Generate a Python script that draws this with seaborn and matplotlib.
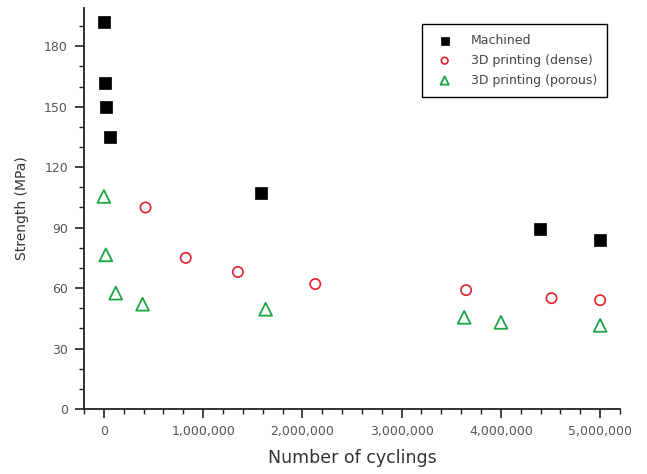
import numpy as np
import pandas as pd
import matplotlib
matplotlib.use("Agg")
import matplotlib.pyplot as plt
from matplotlib.ticker import MultipleLocator, FuncFormatter
import seaborn as sns

# --- data ---
machined_x = [0, 10000, 20000, 60000, 1580000, 4390000, 5000000]
machined_y = [192, 162, 150, 135, 107, 89.5, 84]

dense_x = [420000, 825000, 1350000, 2130000, 3650000, 4510000, 5000000]
dense_y = [100, 75, 68, 62, 59, 55, 54]

porous_x = [0, 20000, 120000, 390000, 1630000, 3630000, 4000000, 5000000]
porous_y = [105.5, 76.5, 57.5, 52, 49.5, 45.5, 43, 41.5]

series_names = ["Machined", "3D printing (dense)", "3D printing (porous)"]

sns.set_style("ticks")
plt.rcParams['font.family'] = ['DejaVu Sans']

fig = plt.figure(figsize=(6.47, 4.74), dpi=100)
ax = fig.add_axes([84 / 647, 65 / 474, 536 / 647, 401 / 474])

sns.scatterplot(x=machined_x, y=machined_y, marker='s', s=80, color='black',
                edgecolor='black', linewidth=0.5, ax=ax, label=series_names[0], zorder=3)
sns.scatterplot(x=dense_x, y=dense_y, marker='o', s=55, facecolor='none',
                edgecolor='#e4202c', linewidth=1.2, ax=ax, label=series_names[1], zorder=3)
sns.scatterplot(x=porous_x, y=porous_y, marker='^', s=85, facecolor='none',
                edgecolor='#1fa445', linewidth=1.3, ax=ax, label=series_names[2], zorder=3)

ax.set_xlim(-200000, 5200000)
ax.set_ylim(0, 199)
ax.xaxis.set_major_locator(MultipleLocator(1000000))
ax.xaxis.set_minor_locator(MultipleLocator(200000))
ax.yaxis.set_major_locator(MultipleLocator(30))
ax.yaxis.set_minor_locator(MultipleLocator(10))
ax.xaxis.set_major_formatter(FuncFormatter(lambda v, p: f"{int(round(v)):,}"))

ax.tick_params(which='major', direction='out', length=6.5, width=1.2,
               labelsize=9, labelcolor='#555555', color='#222222')
ax.tick_params(axis='y', which='major', pad=5)
ax.tick_params(axis='x', which='major', pad=5)
ax.tick_params(which='minor', direction='out', length=3.5, width=1.0, color='#222222')

for side in ['top', 'right']:
    ax.spines[side].set_visible(False)
for side in ['left', 'bottom']:
    ax.spines[side].set_linewidth(1.3)
    ax.spines[side].set_color('#222222')

ax.set_xlabel('Number of cyclings', fontsize=12.5, color='#333333', labelpad=8)
ax.set_ylabel('Strength (MPa)', fontsize=10, color='#333333', labelpad=11)

leg = ax.legend(loc='upper right', bbox_to_anchor=(0.976, 0.96), borderaxespad=0,
                fontsize=9, frameon=True, fancybox=False, edgecolor='black', framealpha=1,
                borderpad=0.8, labelspacing=0.55, handletextpad=1.1, markerscale=0.65)
leg.get_frame().set_linewidth(1.0)
for t in leg.get_texts():
    t.set_color('#444444')

fig.savefig('out.png', dpi=100)
